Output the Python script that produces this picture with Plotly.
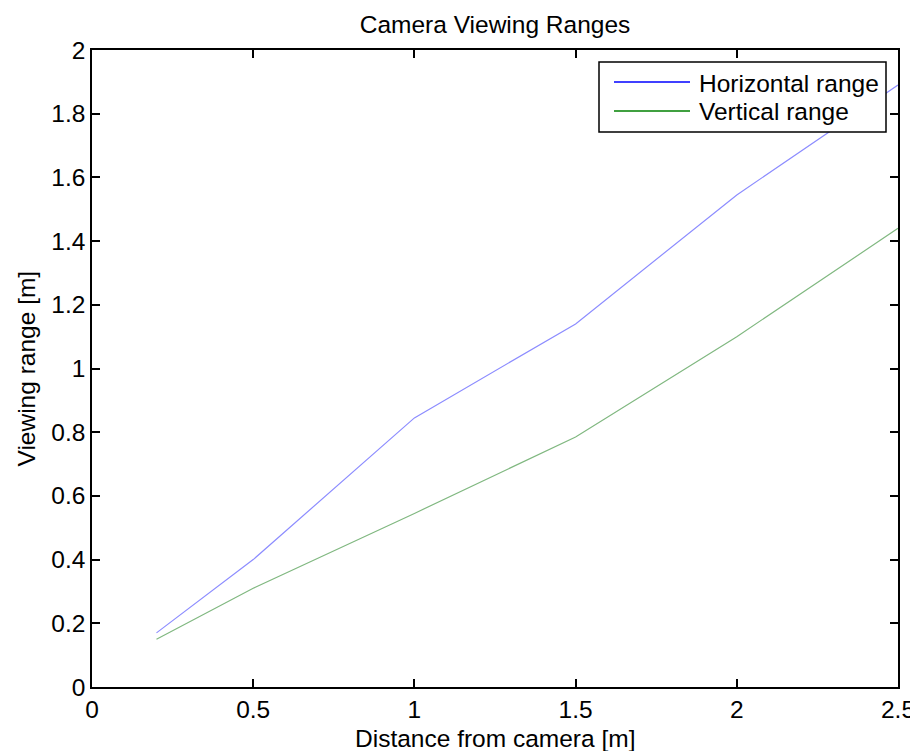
import plotly.graph_objects as go

distance = [0.2, 0.5, 1.0, 1.5, 2.0, 2.5]
horizontal_range = [0.17, 0.40, 0.845, 1.14, 1.545, 1.89]
vertical_range = [0.15, 0.31, 0.545, 0.785, 1.10, 1.44]
x_ticks = [0, 0.5, 1, 1.5, 2, 2.5]
x_tick_labels = ["0", "0.5", "1", "1.5", "2", "2.5"]
y_ticks = [0, 0.2, 0.4, 0.6, 0.8, 1, 1.2, 1.4, 1.6, 1.8, 2]
y_tick_labels = ["0", "0.2", "0.4", "0.6", "0.8", "1", "1.2", "1.4", "1.6", "1.8", "2"]
series_names = ["Horizontal range", "Vertical range"]
legend_colors = ["#0000ff", "#008000"]
line_colors = ["#8c8cff", "#80b880"]

FONT = "Liberation Sans, Arial, sans-serif"
FS = 24.5
OFF = 8  # page body margin
W, H = 918 - OFF, 751 - OFF
# plot area in page pixels: x 92..898, y 50..687
L, R, T, B = 92 - OFF, 918 - 898, 50 - OFF, 751 - 687
PW, PH = W - L - R, H - T - B


def px_to_paper_x(px):
    return (px - OFF - L) / PW


def px_to_paper_y(py):
    return (H - B - (py - OFF)) / PH


fig = go.Figure()
for name, ys, col in zip(series_names, [horizontal_range, vertical_range], line_colors):
    fig.add_trace(go.Scatter(x=distance, y=ys, mode="lines", name=name,
                             line=dict(color=col, width=1.2), showlegend=False))

axis_common = dict(showgrid=False, zeroline=False, showline=True, linecolor="black",
                   linewidth=1.5, mirror="ticks", ticks="inside", ticklen=8,
                   tickwidth=1.5, tickcolor="black", automargin=False,
                   tickfont=dict(family=FONT, size=FS, color="black"))

shapes = []
annotations = []
# legend box (decoration)
shapes.append(dict(type="rect", xref="paper", yref="paper",
                   x0=px_to_paper_x(599), x1=px_to_paper_x(886),
                   y0=px_to_paper_y(132), y1=px_to_paper_y(62),
                   line=dict(color="black", width=1.5), fillcolor="white", layer="above"))
for i, (name, col) in enumerate(zip(series_names, legend_colors)):
    row_y = [82, 111][i]
    shapes.append(dict(type="line", xref="paper", yref="paper",
                       x0=px_to_paper_x(614), x1=px_to_paper_x(690),
                       y0=px_to_paper_y(row_y), y1=px_to_paper_y(row_y),
                       line=dict(color=col, width=1.5), layer="above"))
    annotations.append(dict(text=name, xref="paper", yref="paper",
                            x=px_to_paper_x(697), y=px_to_paper_y(row_y + 1),
                            xanchor="left", yanchor="middle", showarrow=False,
                            font=dict(family=FONT, size=FS, color="black")))

annotations.append(dict(text="Distance from camera [m]", xref="paper", yref="paper",
                        x=0.5, y=px_to_paper_y(738), xanchor="center", yanchor="middle",
                        showarrow=False, font=dict(family=FONT, size=FS, color="black")))
annotations.append(dict(text="Viewing range [m]", xref="paper", yref="paper",
                        x=px_to_paper_x(26), y=0.5, xanchor="center", yanchor="middle",
                        textangle=-90, showarrow=False,
                        font=dict(family=FONT, size=FS, color="black")))

fig.update_layout(
    width=W, height=H,
    paper_bgcolor="white", plot_bgcolor="white",
    margin=dict(l=L, r=R, t=T, b=B, autoexpand=False),
    title=dict(text="Camera Viewing Ranges", x=0.5, xanchor="center",
               xref="paper", y=1 - (24 - OFF) / H, yanchor="middle",
               font=dict(family=FONT, size=FS, color="black")),
    xaxis=dict(range=[0, 2.5], tickvals=x_ticks, ticktext=x_tick_labels, **axis_common),
    yaxis=dict(range=[0, 2], tickvals=y_ticks, ticktext=y_tick_labels, **axis_common),
    shapes=shapes,
    annotations=annotations,
    showlegend=False,
)

fig.write_html("out.html")
